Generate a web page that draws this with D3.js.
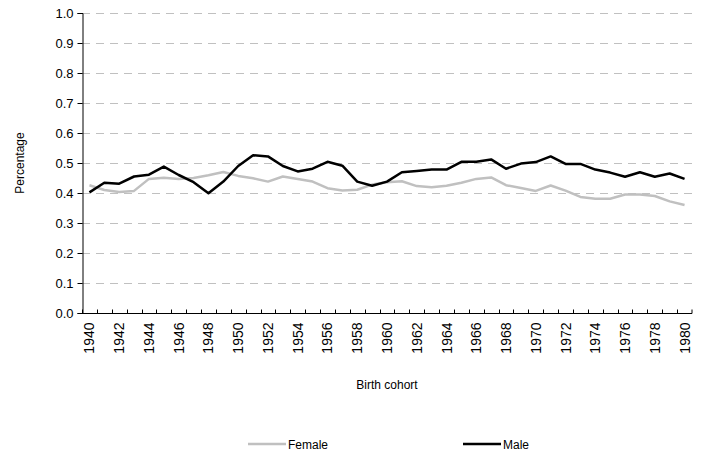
<!DOCTYPE html>
<html>
<head>
<meta charset="utf-8">
<script src="https://cdn.jsdelivr.net/npm/d3@7"></script>
<style>
  html, body { margin: 0; padding: 0; background: #fff; }
  svg { display: block; font-family: "Liberation Sans", Arial, sans-serif; }
</style>
</head>
<body>
<svg id="chart" width="701" height="460"></svg>
<script>
// Birth cohorts 1940–1980
const years = d3.range(1940, 1981);

const female = [
  0.426, 0.410, 0.403, 0.407, 0.447, 0.451, 0.447, 0.450, 0.459, 0.470,
  0.457, 0.449, 0.438, 0.455, 0.447, 0.438, 0.416, 0.408, 0.411, 0.428,
  0.436, 0.439, 0.423, 0.419, 0.424, 0.434, 0.447, 0.452, 0.426, 0.417,
  0.407, 0.425, 0.408, 0.387, 0.381, 0.381, 0.395, 0.395, 0.390, 0.372,
  0.360
];

const male = [
  0.402, 0.434, 0.431, 0.455, 0.461, 0.488, 0.460, 0.436, 0.399, 0.438,
  0.490, 0.526, 0.522, 0.490, 0.472, 0.481, 0.504, 0.491, 0.438, 0.424,
  0.438, 0.469, 0.473, 0.478, 0.478, 0.504, 0.504, 0.512, 0.481, 0.498,
  0.503, 0.522, 0.497, 0.497, 0.478, 0.468, 0.454, 0.469, 0.454, 0.465,
  0.447
];

const yTicks = d3.range(0, 1.0001, 0.1);
const xTickYears = years.filter(y => (y - 1940) % 2 === 0);

const series = [
  { name: "Female", values: female, color: "#c0c0c0" },
  { name: "Male", values: male, color: "#000000" }
];

const svg = d3.select("#chart");
const margin = { left: 82, right: 9, top: 13, bottom: 147 };
const W = 701, H = 460;
const plotW = W - margin.left - margin.right;
const plotH = H - margin.top - margin.bottom;

const x = d3.scaleBand().domain(years).range([margin.left, margin.left + plotW]);
const y = d3.scaleLinear().domain([0, 1]).range([margin.top + plotH, margin.top]);

// Dashed horizontal gridlines
svg.append("g")
  .selectAll("line")
  .data(yTicks.filter(t => t > 0))
  .join("line")
  .attr("x1", margin.left)
  .attr("x2", margin.left + plotW)
  .attr("y1", d => Math.round(y(d)) + 0.5)
  .attr("y2", d => Math.round(y(d)) + 0.5)
  .attr("stroke", "#c0c0c0")
  .attr("stroke-width", 1)
  .attr("stroke-dasharray", "8,6");

// Y axis
const yAxis = svg.append("g")
  .attr("transform", `translate(${margin.left + 0.5},0)`)
  .call(d3.axisLeft(y).tickValues(yTicks).tickFormat(d3.format(".1f")).tickSize(5).tickPadding(4));
yAxis.select(".domain").attr("stroke", "#000");
yAxis.selectAll(".tick line").attr("stroke", "#000");
yAxis.selectAll(".tick text").attr("font-size", 13).attr("fill", "#000");

// X axis with ticks between cohorts
const xAxisG = svg.append("g")
  .attr("transform", `translate(0,${Math.round(margin.top + plotH) + 0.5})`);
xAxisG.append("line")
  .attr("x1", margin.left)
  .attr("x2", margin.left + plotW)
  .attr("stroke", "#000");
xAxisG.selectAll("line.tk")
  .data(years.concat([1981]))
  .join("line")
  .attr("class", "tk")
  .attr("x1", d => d === 1981 ? margin.left + plotW : Math.round(x(d)) + 0.5)
  .attr("x2", d => d === 1981 ? margin.left + plotW : Math.round(x(d)) + 0.5)
  .attr("y1", 0)
  .attr("y2", -4)
  .attr("stroke", "#000");
xAxisG.selectAll("text")
  .data(xTickYears)
  .join("text")
  .attr("transform", d => `translate(${x(d) + x.bandwidth() / 2 + 5},9) rotate(-90)`)
  .attr("text-anchor", "end")
  .attr("font-size", 14)
  .attr("fill", "#000")
  .text(d => d);

// Series lines
const line = d3.line()
  .x((d, i) => x(years[i]) + x.bandwidth() / 2)
  .y(d => y(d));

svg.append("g")
  .selectAll("path")
  .data(series)
  .join("path")
  .attr("d", d => line(d.values))
  .attr("fill", "none")
  .attr("stroke", d => d.color)
  .attr("stroke-width", 2.5)
  .attr("stroke-linejoin", "round");

// Axis titles
svg.append("text")
  .attr("x", margin.left + plotW / 2)
  .attr("y", 389)
  .attr("text-anchor", "middle")
  .attr("font-size", 12)
  .text("Birth cohort");

svg.append("text")
  .attr("transform", `translate(24,${margin.top + 150}) rotate(-90)`)
  .attr("text-anchor", "middle")
  .attr("font-size", 12)
  .text("Percentage");

// Legend
const legend = svg.append("g");
const legendPos = [248, 463];
series.forEach((s, i) => {
  const g = legend.append("g").attr("transform", `translate(${legendPos[i]},444)`);
  g.append("line").attr("x1", 0).attr("x2", 38).attr("stroke", s.color).attr("stroke-width", 2.5);
  g.append("text").attr("x", 40).attr("y", 4.5).attr("font-size", 12).text(s.name);
});
</script>
</body>
</html>
